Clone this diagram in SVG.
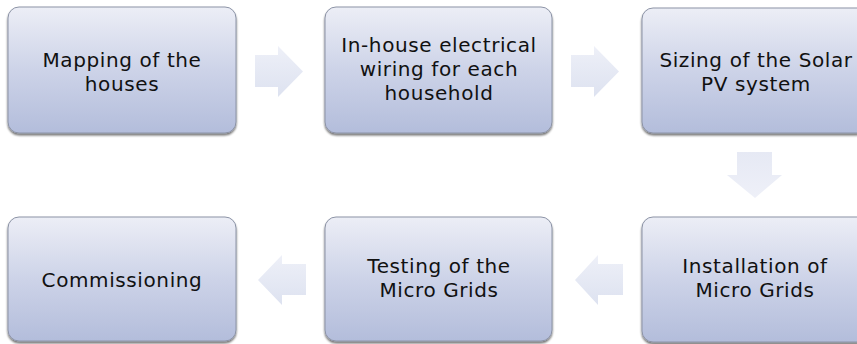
<svg xmlns="http://www.w3.org/2000/svg" width="857" height="344" viewBox="0 0 857 344">
  <defs>
    <linearGradient id="boxFill" x1="0" y1="0" x2="0" y2="1">
      <stop offset="0" stop-color="#eceef6"/>
      <stop offset="0.5" stop-color="#cdd3e8"/>
      <stop offset="1" stop-color="#b3bddb"/>
    </linearGradient>
    <linearGradient id="arrowFillH" x1="0" y1="0" x2="0" y2="1">
      <stop offset="0" stop-color="#eef0f8"/>
      <stop offset="1" stop-color="#dde2f0"/>
    </linearGradient>
    <linearGradient id="arrowFillV" x1="0" y1="0" x2="0" y2="1">
      <stop offset="0" stop-color="#e6e9f4"/>
      <stop offset="1" stop-color="#eef0f8"/>
    </linearGradient>
    <filter id="shadow" x="-5%" y="-5%" width="110%" height="115%">
      <feGaussianBlur in="SourceAlpha" stdDeviation="1.2"/>
      <feOffset dx="0" dy="1.5" result="b"/>
      <feComponentTransfer><feFuncA type="linear" slope="0.55"/></feComponentTransfer>
      <feMerge><feMergeNode/><feMergeNode in="SourceGraphic"/></feMerge>
    </filter>
  </defs>
  <style>
    .box { fill: url(#boxFill); stroke: #8c93a6; stroke-width: 1; filter: url(#shadow); }
    .lbl { font-family: "DejaVu Sans", "Open Sans", sans-serif; font-size: 20px; letter-spacing: 0.6px; fill: #111; text-anchor: middle; }
    .arr { fill: url(#arrowFillH); }
    .arrv { fill: url(#arrowFillV); }
  </style>

  <g id="connectors">
    <polygon class="arr" points="255,55 278,55 278,46 303,71.5 278,97 278,87 255,87"/>
    <polygon class="arr" points="571,55 594,55 594,46 619,71.5 594,97 594,87 571,87"/>
    <polygon class="arrv" points="737,152 772,152 772,175 782,175 755,198 727,175 737,175"/>
    <polygon class="arr" points="623,264 598,264 598,255 575,280 598,305 598,295 623,295"/>
    <polygon class="arr" points="306,264 282,264 282,255 258,280 282,305 282,295 306,295"/>
  </g>

  <g id="mapping">
    <rect class="box" x="8" y="7" width="228" height="126" rx="11"/>
    <text class="lbl" x="122" y="67">Mapping of the</text>
    <text class="lbl" x="122" y="91">houses</text>
  </g>
  <g id="wiring">
    <rect class="box" x="325" y="7" width="227" height="126" rx="11"/>
    <text class="lbl" x="439" y="52">In-house electrical</text>
    <text class="lbl" x="439" y="76">wiring for each</text>
    <text class="lbl" x="439" y="100">household</text>
  </g>
  <g id="sizing">
    <rect class="box" x="642" y="8" width="226" height="125" rx="11"/>
    <text class="lbl" x="756" y="67">Sizing of the Solar</text>
    <text class="lbl" x="756" y="91">PV system</text>
  </g>
  <g id="installation">
    <rect class="box" x="642" y="217" width="226" height="125" rx="11"/>
    <text class="lbl" x="755" y="273">Installation of</text>
    <text class="lbl" x="755" y="297">Micro Grids</text>
  </g>
  <g id="testing">
    <rect class="box" x="325" y="217" width="227" height="124" rx="11"/>
    <text class="lbl" x="439" y="273">Testing of the</text>
    <text class="lbl" x="439" y="297">Micro Grids</text>
  </g>
  <g id="commissioning">
    <rect class="box" x="8" y="217" width="228" height="124" rx="11"/>
    <text class="lbl" x="122" y="287">Commissioning</text>
  </g>
</svg>
